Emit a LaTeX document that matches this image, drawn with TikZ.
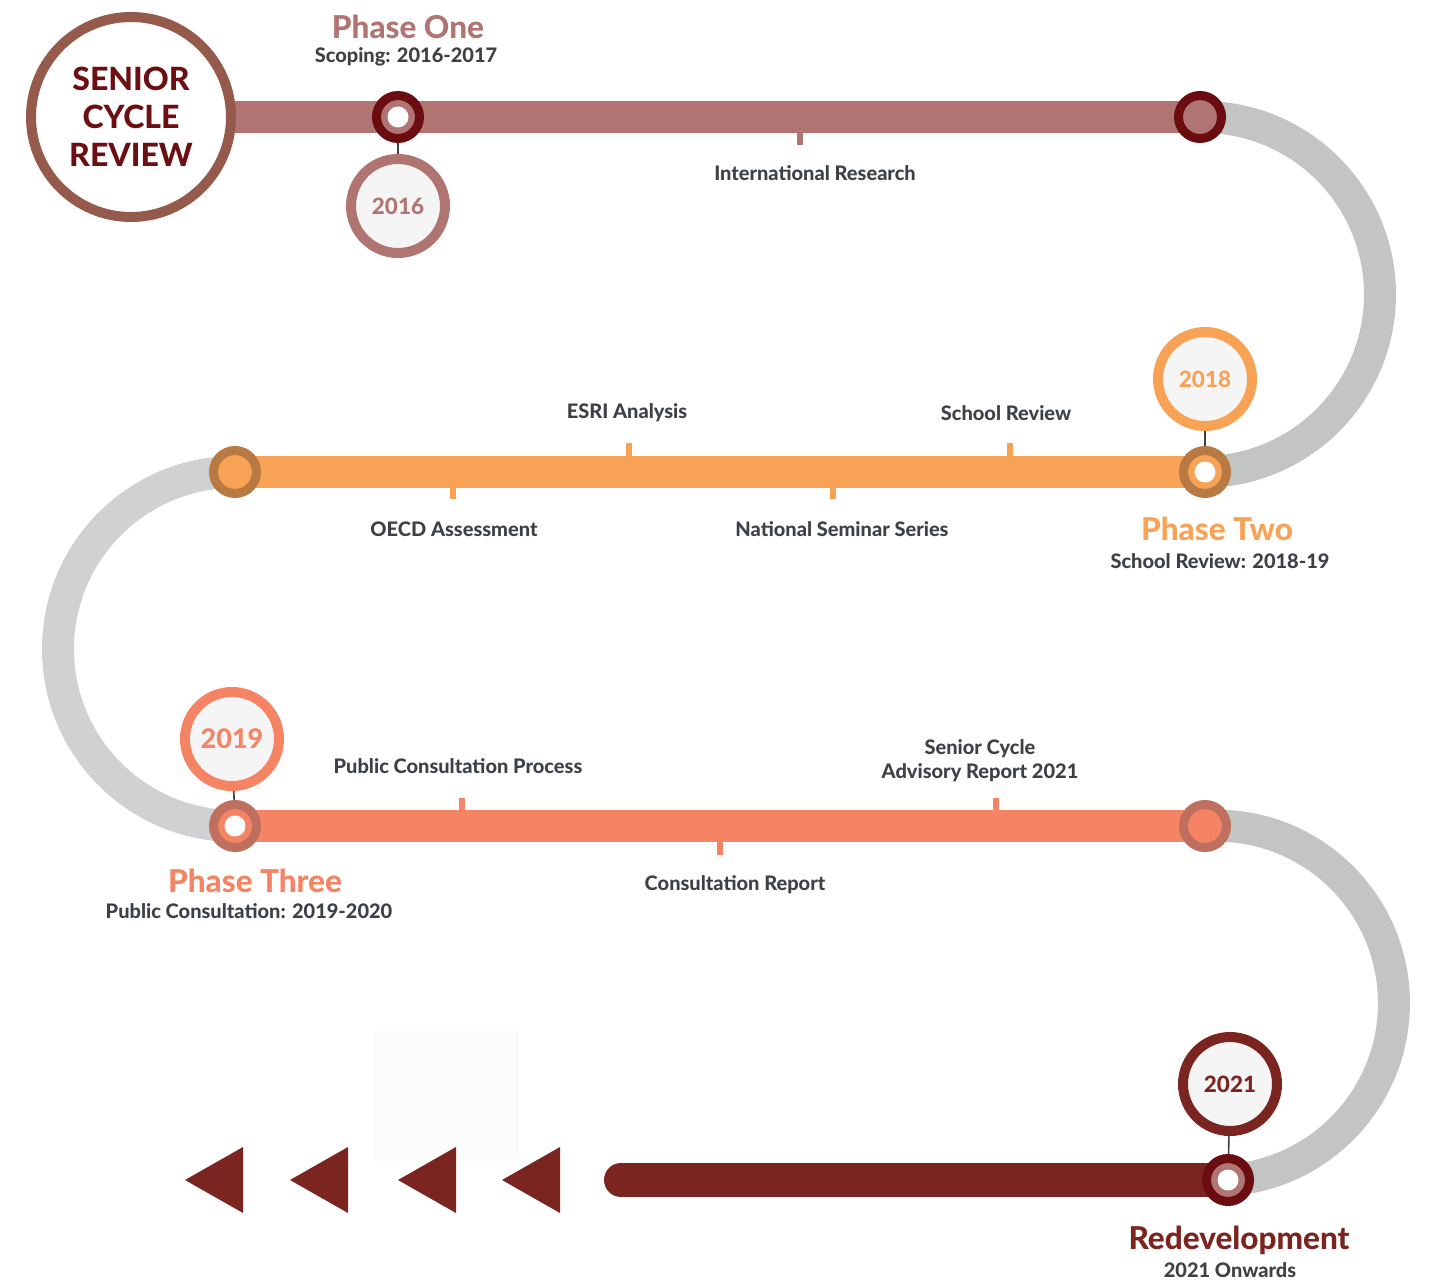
\documentclass[tikz,border=0pt]{standalone}
\usepackage{fontspec}
\setmainfont{Lato}[BoldFont={Lato Heavy}]
\usetikzlibrary{backgrounds}
\definecolor{rose}{HTML}{B07573}
\definecolor{darkring}{HTML}{6B0C10}
\definecolor{seniorring}{HTML}{955A4C}
\definecolor{seniortext}{HTML}{6B0F12}
\definecolor{orangec}{HTML}{F7A254}
\definecolor{orangering}{HTML}{B87942}
\definecolor{salmon}{HTML}{F48463}
\definecolor{salmonring}{HTML}{BF6F5E}
\definecolor{redev}{HTML}{7B2520}
\definecolor{grayA}{HTML}{C3C5C4}
\definecolor{grayB}{HTML}{D0D1D3}
\definecolor{txt}{HTML}{3D4145}
\definecolor{yrfill}{HTML}{F5F5F5}
\definecolor{faint}{HTML}{FAFBFB}
\tikzset{
  marker/.style 2 args={circle, inner sep=0pt, outer sep=0pt, minimum size=43pt, line width=9pt, draw=#1, fill=#2},
  yearbox/.style={circle, inner sep=0pt, minimum size=94pt, line width=10pt, draw=#1, fill=yrfill, text=#1, font=\bfseries\fontsize{22.5}{26}\selectfont},
  track/.style={line width=32pt, draw=#1},
  grayarc/.style={line width=32pt, draw=#1},
  conn/.style={draw=txt, line width=1.6pt},
  lbl/.style={text=txt, font=\bfseries\fontsize{20}{24}\selectfont, inner sep=0pt, align=center},
  phase/.style={text=#1, font=\bfseries\fontsize{31.5}{34}\selectfont, inner sep=0pt},
  tick/.style={line width=6pt, draw=#1},
}
\begin{document}
\begin{tikzpicture}[x=1pt, y=-1pt]
\useasboundingbox (0,0) rectangle (1429,1284);
% faint rectangle
\fill[faint] (374,1031) rectangle (519,1161);

% senior circle
\node[circle, minimum size=200pt, line width=10pt, draw=seniorring, fill=white, inner sep=0pt,
  text=seniortext, font=\bfseries\fontsize{32}{38}\selectfont, align=center] (senior) at (131,117)
  {SENIOR\\CYCLE\\REVIEW};

% markers
\node[marker={darkring}{rose}] (p1a) at (398,117) {};
\node[marker={darkring}{rose}] (p1b) at (1200,117) {};
\node[marker={orangering}{orangec}] (p2a) at (1205,472) {};
\node[marker={orangering}{orangec}] (p2b) at (235,472) {};
\node[marker={salmonring}{salmon}] (p3a) at (235,826) {};
\node[marker={salmonring}{salmon}] (p3b) at (1205,826) {};
\node[marker={darkring}{rose}] (p4a) at (1228,1180) {};
\coordinate (p4end) at (621,1180);
\fill[white] (p1a) circle (10.5);
\fill[white] (p2a) circle (10.5);
\fill[white] (p3a) circle (10.5);
\fill[white] (p4a) circle (10.5);

% year circles
\node[yearbox=rose] (y2016) at (398,206) {2016};
\node[yearbox=orangec] (y2018) at (1205,379) {2018};
\node[yearbox=salmon, font=\bfseries\fontsize{27}{30}\selectfont] (y2019) at (232,739) {2019};
\node[yearbox=redev] (y2021) at (1230,1084) {2021};

\begin{pgfonlayer}{background}
  % tracks
  \draw[track=rose] (senior.center) -- (p1b.center);
  \draw[grayarc=grayA] (p1b.center) arc[start angle=90.8, end angle=-89.2, radius=177.5pt];
  \draw[track=orangec] (p2a.center) -- (p2b.center);
  \draw[grayarc=grayB] (p2b.center) arc[start angle=90, end angle=270, radius=177pt];
  \draw[track=salmon] (p3a.center) -- (p3b.center);
  \draw[grayarc=grayA] (p3b.center) arc[start angle=93.7, end angle=-86.3, radius=177.5pt];
  \draw[track=redev, line width=34pt, line cap=round] (p4end) -- (p4a.center);
  % connectors to year circles
  \draw[conn] (p1a) -- (y2016);
  \draw[conn] (p2a) -- (y2018);
  \draw[conn] (p3a) -- (y2019);
  \draw[conn] (p4a) -- (y2021);
\end{pgfonlayer}

% ticks
\draw[tick=rose] (800,130) -- (800,145);
\draw[tick=orangec] (629,459) -- (629,443);
\draw[tick=orangec] (1010,459) -- (1010,443);
\draw[tick=orangec] (453,485) -- (453,499);
\draw[tick=orangec] (833,485) -- (833,499);
\draw[tick=salmon] (462,813) -- (462,798);
\draw[tick=salmon] (996,813) -- (996,798);
\draw[tick=salmon] (720,839) -- (720,855);

% triangles
\fill[redev] (243,1147) -- (185,1180) -- (243,1213) -- cycle;
\fill[redev] (348,1147) -- (290,1180) -- (348,1213) -- cycle;
\fill[redev] (456,1147) -- (398,1180) -- (456,1213) -- cycle;
\fill[redev] (560,1147) -- (502,1180) -- (560,1213) -- cycle;

% phase titles
\node[phase=rose] (ph1) at (408,27) {Phase One};
\node[lbl] (ph1s) at (406,57) {Scoping: 2016-2017};
\node[phase=orangec] (ph2) at (1217,529) {Phase Two};
\node[lbl] (ph2s) at (1220,561) {School Review: 2018-19};
\node[phase=salmon] (ph3) at (255,881) {Phase Three};
\node[lbl] (ph3s) at (249,911) {Public Consultation: 2019-2020};
\node[phase=redev] (ph4) at (1239,1240) {Redevelopment};
\node[lbl] (ph4s) at (1230,1270) {2021 Onwards};

% labels
\node[lbl] (l1) at (815,173) {International Research};
\node[lbl] (l2) at (627,413) {ESRI Analysis};
\node[lbl] (l3) at (1006,413) {School Review};
\node[lbl] (l4) at (454,529) {OECD Assessment};
\node[lbl] (l5) at (842,529) {National Seminar Series};
\node[lbl] (l6) at (458,766) {Public Consultation Process};
\node[lbl, text depth=0pt] (l7) at (980,759) {Senior Cycle\\Advisory Report 2021};
\node[lbl] (l8) at (735,885) {Consultation Report};
\end{tikzpicture}
\end{document}
